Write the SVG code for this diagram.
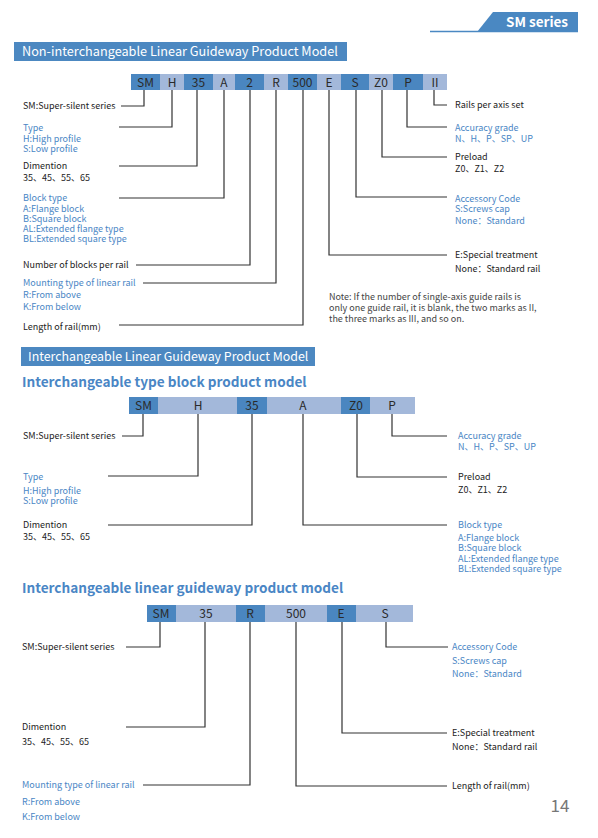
<svg xmlns="http://www.w3.org/2000/svg" width="598" height="838" viewBox="0 0 598 838">
<style>
text{font-family:"Noto Sans CJK SC","Noto Sans","Liberation Sans",sans-serif;font-size:9px}
.k{fill:#222}
.b{fill:#4a86c5}
.n{fill:#444}
.w{fill:#fff}
.bar{fill:#4c88c1}
.d{fill:#4a86c0}
.l{fill:#a3b8da}
.c{font-size:12px;fill:#2a2a2a;text-anchor:middle}
.h{font-size:13.6px;font-weight:bold;fill:#4a86c5}
.t{font-size:12.7px;fill:#fff}
.ln{fill:none;stroke:#333;stroke-width:1.2}
</style>
<rect width="598" height="838" fill="#fff"/>
<g id="header">
<line x1="430" y1="31.5" x2="578" y2="31.5" stroke="#4a88c2" stroke-width="1.5"/>
<path d="M477,32 L493,12 L578,12 L578,32 Z" fill="#4a88c2"/>
<text x="537" y="27" text-anchor="middle" style="font-size:13.5px;font-weight:bold" class="w">SM series</text>
</g>
<g id="section1-title">
<rect class="bar" x="14" y="42" width="333" height="19"/>
<text class="t" x="22" y="56">Non-interchangeable Linear Guideway Product Model</text>
</g>
<g id="code1">
<rect class="d" x="131" y="74" width="29" height="16"/><text class="c" x="145.5" y="86.5">SM</text>
<rect class="l" x="160" y="74" width="24" height="16"/><text class="c" x="172" y="86.5">H</text>
<rect class="d" x="184" y="74" width="29" height="16"/><text class="c" x="198.5" y="86.5">35</text>
<rect class="l" x="213" y="74" width="22" height="16"/><text class="c" x="224" y="86.5">A</text>
<rect class="d" x="235" y="74" width="29" height="16"/><text class="c" x="249.5" y="86.5">2</text>
<rect class="l" x="264" y="74" width="24" height="16"/><text class="c" x="276" y="86.5">R</text>
<rect class="d" x="288" y="74" width="29" height="16"/><text class="c" x="302.5" y="86.5">500</text>
<rect class="l" x="317" y="74" width="24" height="16"/><text class="c" x="329" y="86.5">E</text>
<rect class="d" x="341" y="74" width="28" height="16"/><text class="c" x="355" y="86.5">S</text>
<rect class="l" x="369" y="74" width="24" height="16"/><text class="c" x="381" y="86.5">Z0</text>
<rect class="d" x="393" y="74" width="30" height="16"/><text class="c" x="408" y="86.5">P</text>
<rect class="l" x="423" y="74" width="24" height="16"/><text class="c" x="435" y="86.5">II</text>
</g>
<g id="connectors1">
<path class="ln" d="M144,90 V106 H121"/>
<path class="ln" d="M172,90 V127 H119"/>
<path class="ln" d="M197,90 V166 H119"/>
<path class="ln" d="M224,90 V198 H119"/>
<path class="ln" d="M250,90 V265 H136"/>
<path class="ln" d="M276,90 V283 H143"/>
<path class="ln" d="M303,90 V325 H119"/>
<path class="ln" d="M329,90 V255 H447"/>
<path class="ln" d="M356,90 V197 H447"/>
<path class="ln" d="M382,90 V157 H447"/>
<path class="ln" d="M407,90 V127 H447"/>
<path class="ln" d="M434,90 V105 H447"/>
</g>
<g id="labels1-left">
<text class="k" x="23" y="109">SM:Super-silent series</text>
<text class="b" x="23" y="131">Type</text>
<text class="b" x="23" y="142">H:High profile</text>
<text class="b" x="23" y="152">S:Low profile</text>
<text class="k" x="23" y="169">Dimention</text>
<text class="k" x="23" y="181">35、45、55、65</text>
<text class="b" x="23" y="201">Block type</text>
<text class="b" x="23" y="212">A:Flange block</text>
<text class="b" x="23" y="222">B:Square block</text>
<text class="b" x="23" y="232">AL:Extended flange type</text>
<text class="b" x="23" y="242">BL:Extended square type</text>
<text class="k" x="23" y="268">Number of blocks per rail</text>
<text class="b" x="23" y="286">Mounting type of linear rail</text>
<text class="b" x="23" y="298">R:From above</text>
<text class="b" x="23" y="310">K:From below</text>
<text class="k" x="23" y="330">Length of rail(mm)</text>
</g>
<g id="labels1-right">
<text class="k" x="455" y="108">Rails per axis set</text>
<text class="b" x="455" y="131">Accuracy grade</text>
<text class="b" x="455" y="142">N、H、P、SP、UP</text>
<text class="k" x="455" y="160">Preload</text>
<text class="k" x="455" y="172">Z0、Z1、Z2</text>
<text class="b" x="455" y="202">Accessory Code</text>
<text class="b" x="455" y="212">S:Screws cap</text>
<text class="b" x="455" y="224">None：Standard</text>
<text class="k" x="455" y="258">E:Special treatment</text>
<text class="k" x="455" y="272">None：Standard rail</text>
<text class="n" x="329" y="300">Note: If the number of single-axis guide rails is</text>
<text class="n" x="329" y="311">only one guide rail, it is blank, the two marks as II,</text>
<text class="n" x="329" y="322">the three marks as III, and so on.</text>
</g>
<g id="section2-title">
<rect class="bar" x="21" y="347" width="294" height="19"/>
<text class="t" x="28" y="361" style="font-size:12.4px">Interchangeable Linear Guideway Product Model</text>
<text class="h" x="22" y="387">Interchangeable type block product model</text>
</g>
<g id="code2">
<rect class="d" x="129" y="397" width="29" height="17"/><text class="c" x="143.5" y="410">SM</text>
<rect class="l" x="158" y="397" width="79" height="17"/><text class="c" x="198" y="410">H</text>
<rect class="d" x="237" y="397" width="30" height="17"/><text class="c" x="252" y="410">35</text>
<rect class="l" x="267" y="397" width="74" height="17"/><text class="c" x="303" y="410">A</text>
<rect class="d" x="341" y="397" width="29" height="17"/><text class="c" x="356" y="410">Z0</text>
<rect class="l" x="370" y="397" width="45" height="17"/><text class="c" x="392" y="410">P</text>
</g>
<g id="connectors2">
<path class="ln" d="M143,414 V436 H122"/>
<path class="ln" d="M198,414 V476 H108"/>
<path class="ln" d="M252,414 V525 H108"/>
<path class="ln" d="M303,414 V525 H447"/>
<path class="ln" d="M357,414 V477 H447"/>
<path class="ln" d="M392,414 V436 H447"/>
</g>
<g id="labels2">
<text class="k" x="23" y="439">SM:Super-silent series</text>
<text class="b" x="23" y="480">Type</text>
<text class="b" x="23" y="494">H:High profile</text>
<text class="b" x="23" y="504">S:Low profile</text>
<text class="k" x="23" y="528">Dimention</text>
<text class="k" x="23" y="540">35、45、55、65</text>
<text class="b" x="458" y="439">Accuracy grade</text>
<text class="b" x="458" y="450">N、H、P、SP、UP</text>
<text class="k" x="458" y="480">Preload</text>
<text class="k" x="458" y="493">Z0、Z1、Z2</text>
<text class="b" x="458" y="528">Block type</text>
<text class="b" x="458" y="541">A:Flange block</text>
<text class="b" x="458" y="551">B:Square block</text>
<text class="b" x="458" y="562">AL:Extended flange type</text>
<text class="b" x="458" y="572">BL:Extended square type</text>
</g>
<g id="section3-title">
<text class="h" x="22" y="593">Interchangeable linear guideway product model</text>
</g>
<g id="code3">
<rect class="d" x="147" y="605" width="29" height="17"/><text class="c" x="161" y="618">SM</text>
<rect class="l" x="176" y="605" width="60" height="17"/><text class="c" x="206" y="618">35</text>
<rect class="d" x="236" y="605" width="29" height="17"/><text class="c" x="250" y="618">R</text>
<rect class="l" x="265" y="605" width="62" height="17"/><text class="c" x="296" y="618">500</text>
<rect class="d" x="327" y="605" width="29" height="17"/><text class="c" x="341" y="618">E</text>
<rect class="l" x="356" y="605" width="57" height="17"/><text class="c" x="385" y="618">S</text>
</g>
<g id="connectors3">
<path class="ln" d="M160,622 V647 H126"/>
<path class="ln" d="M205,622 V727 H126"/>
<path class="ln" d="M250,622 V785 H143"/>
<path class="ln" d="M296,622 V786 H447"/>
<path class="ln" d="M342,622 V733 H447"/>
<path class="ln" d="M386,622 V647 H448"/>
</g>
<g id="labels3">
<text class="k" x="22" y="650">SM:Super-silent series</text>
<text class="k" x="22" y="730">Dimention</text>
<text class="k" x="22" y="745">35、45、55、65</text>
<text class="b" x="22" y="788">Mounting type of linear rail</text>
<text class="b" x="22" y="805">R:From above</text>
<text class="b" x="22" y="820">K:From below</text>
<text class="b" x="452" y="650">Accessory Code</text>
<text class="b" x="452" y="664">S:Screws cap</text>
<text class="b" x="452" y="677">None：Standard</text>
<text class="k" x="452" y="736">E:Special treatment</text>
<text class="k" x="452" y="750">None：Standard rail</text>
<text class="k" x="452" y="789">Length of rail(mm)</text>
</g>
<g id="page-number">
<text x="560" y="812" text-anchor="middle" style="font-size:17px;fill:#777">14</text>
</g>
</svg>
